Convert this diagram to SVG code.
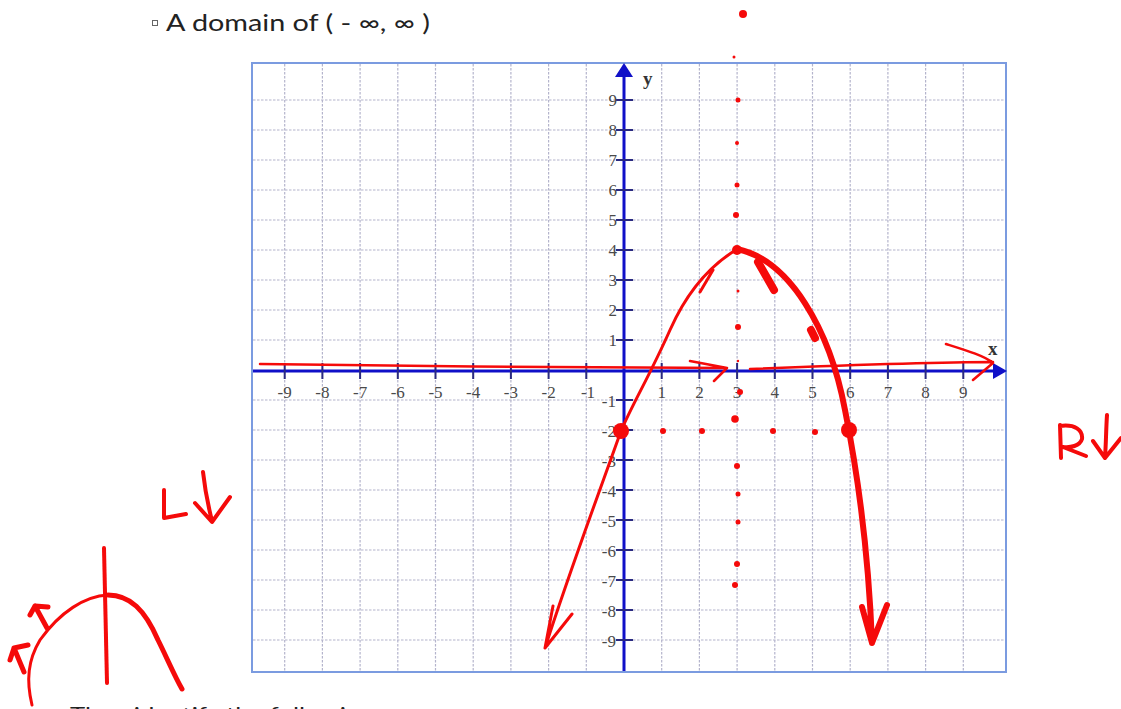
<svg xmlns="http://www.w3.org/2000/svg" width="1121" height="709" viewBox="0 0 1121 709">
<style>
.grid{stroke:#b4b4cc;stroke-width:1.2;stroke-dasharray:2.5,1.5;fill:none}
.axis{stroke:#1010c8;stroke-width:3;fill:none}
.tick{stroke:#2a2a80;stroke-width:2}
.lab{font-family:"Liberation Serif",serif;font-size:17px;fill:#4a4a4a}
.ink{stroke:#f50a0a;fill:none;stroke-linecap:round;stroke-linejoin:round}
.dot{fill:#f50a0a}
.txt{font-family:Lato,"Liberation Sans",sans-serif;fill:#222}
</style>
<rect width="1121" height="709" fill="#fff"/>
<g id="heading">
<rect x="152.5" y="20.5" width="5" height="5" fill="none" stroke="#666" stroke-width="1"/>
<text class="txt" x="166" y="31" font-size="23" textLength="264" lengthAdjust="spacingAndGlyphs">A domain of ( - ∞, ∞ )</text>
</g>
<g id="graph">
<rect x="252" y="63" width="754" height="609" fill="#fff" stroke="#7b9be0" stroke-width="2"/>
<path class="grid" d="M284.7 64V671M322.4 64V671M360.1 64V671M397.8 64V671M435.5 64V671M473.2 64V671M510.9 64V671M548.6 64V671M586.3 64V671M661.7 64V671M699.4 64V671M737.1 64V671M774.8 64V671M812.5 64V671M850.2 64V671M887.9 64V671M925.6 64V671M963.3 64V671"/>
<path class="grid" d="M253 100H1005M253 130H1005M253 160H1005M253 190H1005M253 220H1005M253 250H1005M253 280H1005M253 310H1005M253 340H1005M253 400H1005M253 430H1005M253 460H1005M253 490H1005M253 520H1005M253 550H1005M253 580H1005M253 610H1005M253 640H1005"/>
<path class="axis" d="M253 371H995M624 671V76"/>
<polygon points="1007,371 993,363 993,379" fill="#1010c8"/>
<polygon points="624,63 615,77 633,77" fill="#1010c8"/>
<path class="tick" d="M284.7 363V379M322.4 363V379M360.1 363V379M397.8 363V379M435.5 363V379M473.2 363V379M510.9 363V379M548.6 363V379M586.3 363V379M661.7 363V379M699.4 363V379M737.1 363V379M774.8 363V379M812.5 363V379M850.2 363V379M887.9 363V379M925.6 363V379M963.3 363V379"/>
<path class="tick" d="M616 100H633M616 130H633M616 160H633M616 190H633M616 220H633M616 250H633M616 280H633M616 310H633M616 340H633M616 400H633M616 430H633M616 460H633M616 490H633M616 520H633M616 550H633M616 580H633M616 610H633M616 640H633"/>
<g class="lab" text-anchor="middle">
<text x="284.7" y="398">-9</text><text x="322.4" y="398">-8</text><text x="360.1" y="398">-7</text><text x="397.8" y="398">-6</text><text x="435.5" y="398">-5</text><text x="473.2" y="398">-4</text><text x="510.9" y="398">-3</text><text x="548.6" y="398">-2</text><text x="588" y="398">-1</text>
<text x="661.7" y="398">1</text><text x="699.4" y="398">2</text><text x="737.1" y="398">3</text><text x="774.8" y="398">4</text><text x="812.5" y="398">5</text><text x="850.2" y="398">6</text><text x="887.9" y="398">7</text><text x="925.6" y="398">8</text><text x="963.3" y="398">9</text>
</g>
<g class="lab" text-anchor="end">
<text x="617" y="106">9</text><text x="617" y="136">8</text><text x="617" y="166">7</text><text x="617" y="196">6</text><text x="617" y="226">5</text><text x="617" y="256">4</text><text x="617" y="286">3</text><text x="617" y="316">2</text><text x="617" y="346">1</text>
<text x="616" y="407">-1</text><text x="616" y="437">-2</text><text x="616" y="467">-3</text><text x="616" y="497">-4</text><text x="616" y="527">-5</text><text x="616" y="557">-6</text><text x="616" y="587">-7</text><text x="616" y="617">-8</text><text x="616" y="647">-9</text>
</g>
<text x="988" y="355" font-family="Liberation Serif,serif" font-size="19" font-weight="bold" fill="#333">x</text>
<text x="643" y="85" font-family="Liberation Serif,serif" font-size="19" font-weight="bold" fill="#333">y</text>
</g>
<g id="annotations">
<path class="ink" stroke-width="2.5" d="M260 364C400 366 600 368 727 368M690 361L727 368L714 381"/>
<path class="ink" stroke-width="2.5" d="M750 369C850 365 930 362 993 362M946 344C965 350 985 356 993 363L973 380"/>
<g class="dot">
<circle cx="743" cy="14" r="4"/><circle cx="734" cy="57" r="1.5"/><circle cx="738" cy="100" r="2.5"/><circle cx="737" cy="143" r="2"/><circle cx="737" cy="185" r="2.5"/><circle cx="736" cy="215" r="3"/><circle cx="738" cy="291" r="1.5"/><circle cx="738" cy="327" r="3"/><circle cx="738" cy="361" r="1.2"/><circle cx="740" cy="392" r="3"/><circle cx="735" cy="419" r="3.8"/><circle cx="737" cy="466" r="3"/><circle cx="738" cy="494" r="2.5"/><circle cx="738" cy="522" r="2.5"/><circle cx="737" cy="564" r="3"/><circle cx="735" cy="585" r="3"/>
<circle cx="663" cy="431" r="3"/><circle cx="702" cy="431" r="3"/><circle cx="773" cy="431" r="3"/><circle cx="815" cy="432" r="3"/>
<circle cx="621" cy="431" r="8"/><circle cx="849" cy="430" r="8"/><circle cx="737" cy="250" r="5"/>
</g>
<path class="ink" stroke-width="3" d="M739 248C715 262 690 285 670 330C650 375 632 405 621 431C600 490 570 570 545 648M553 606L545 648L572 614M700 292L713 270"/>
<path class="ink" stroke-width="6" d="M737 249C790 260 830 330 845 410C855 460 868 540 872 643M862 607L872 643L887 605"/>
<path class="ink" stroke-width="8" d="M758 262L774 290M811 330L815 338"/>
<path class="ink" stroke-width="4" d="M164 490L164 518L186 514M203 472C205 490 208 505 212 521M195 503L212 522L230 497"/>
<path class="ink" stroke-width="4" d="M1060 425L1061 458M1060 426C1075 424 1083 430 1082 439C1080 446 1070 448 1063 447L1086 456M1107 415C1106 430 1106 445 1105 457M1093 441L1105 458L1121 438"/>
<path class="ink" stroke-width="4" d="M104 548L107 683"/>
<path class="ink" stroke-width="3" d="M32 705C26 680 28 660 40 640C60 612 85 596 108 595"/>
<path class="ink" stroke-width="5" d="M108 595C130 595 145 610 158 640C167 658 174 675 182 689"/>
<path class="ink" stroke-width="5" d="M24 672L14 648M10 660L14 648L28 645M47 628L35 606M30 615L35 606L48 607"/>
</g>
<g id="footer">
<text class="txt" x="70" y="721" font-size="20" textLength="310" lengthAdjust="spacingAndGlyphs">Then identify the following:</text>
</g>
</svg>
